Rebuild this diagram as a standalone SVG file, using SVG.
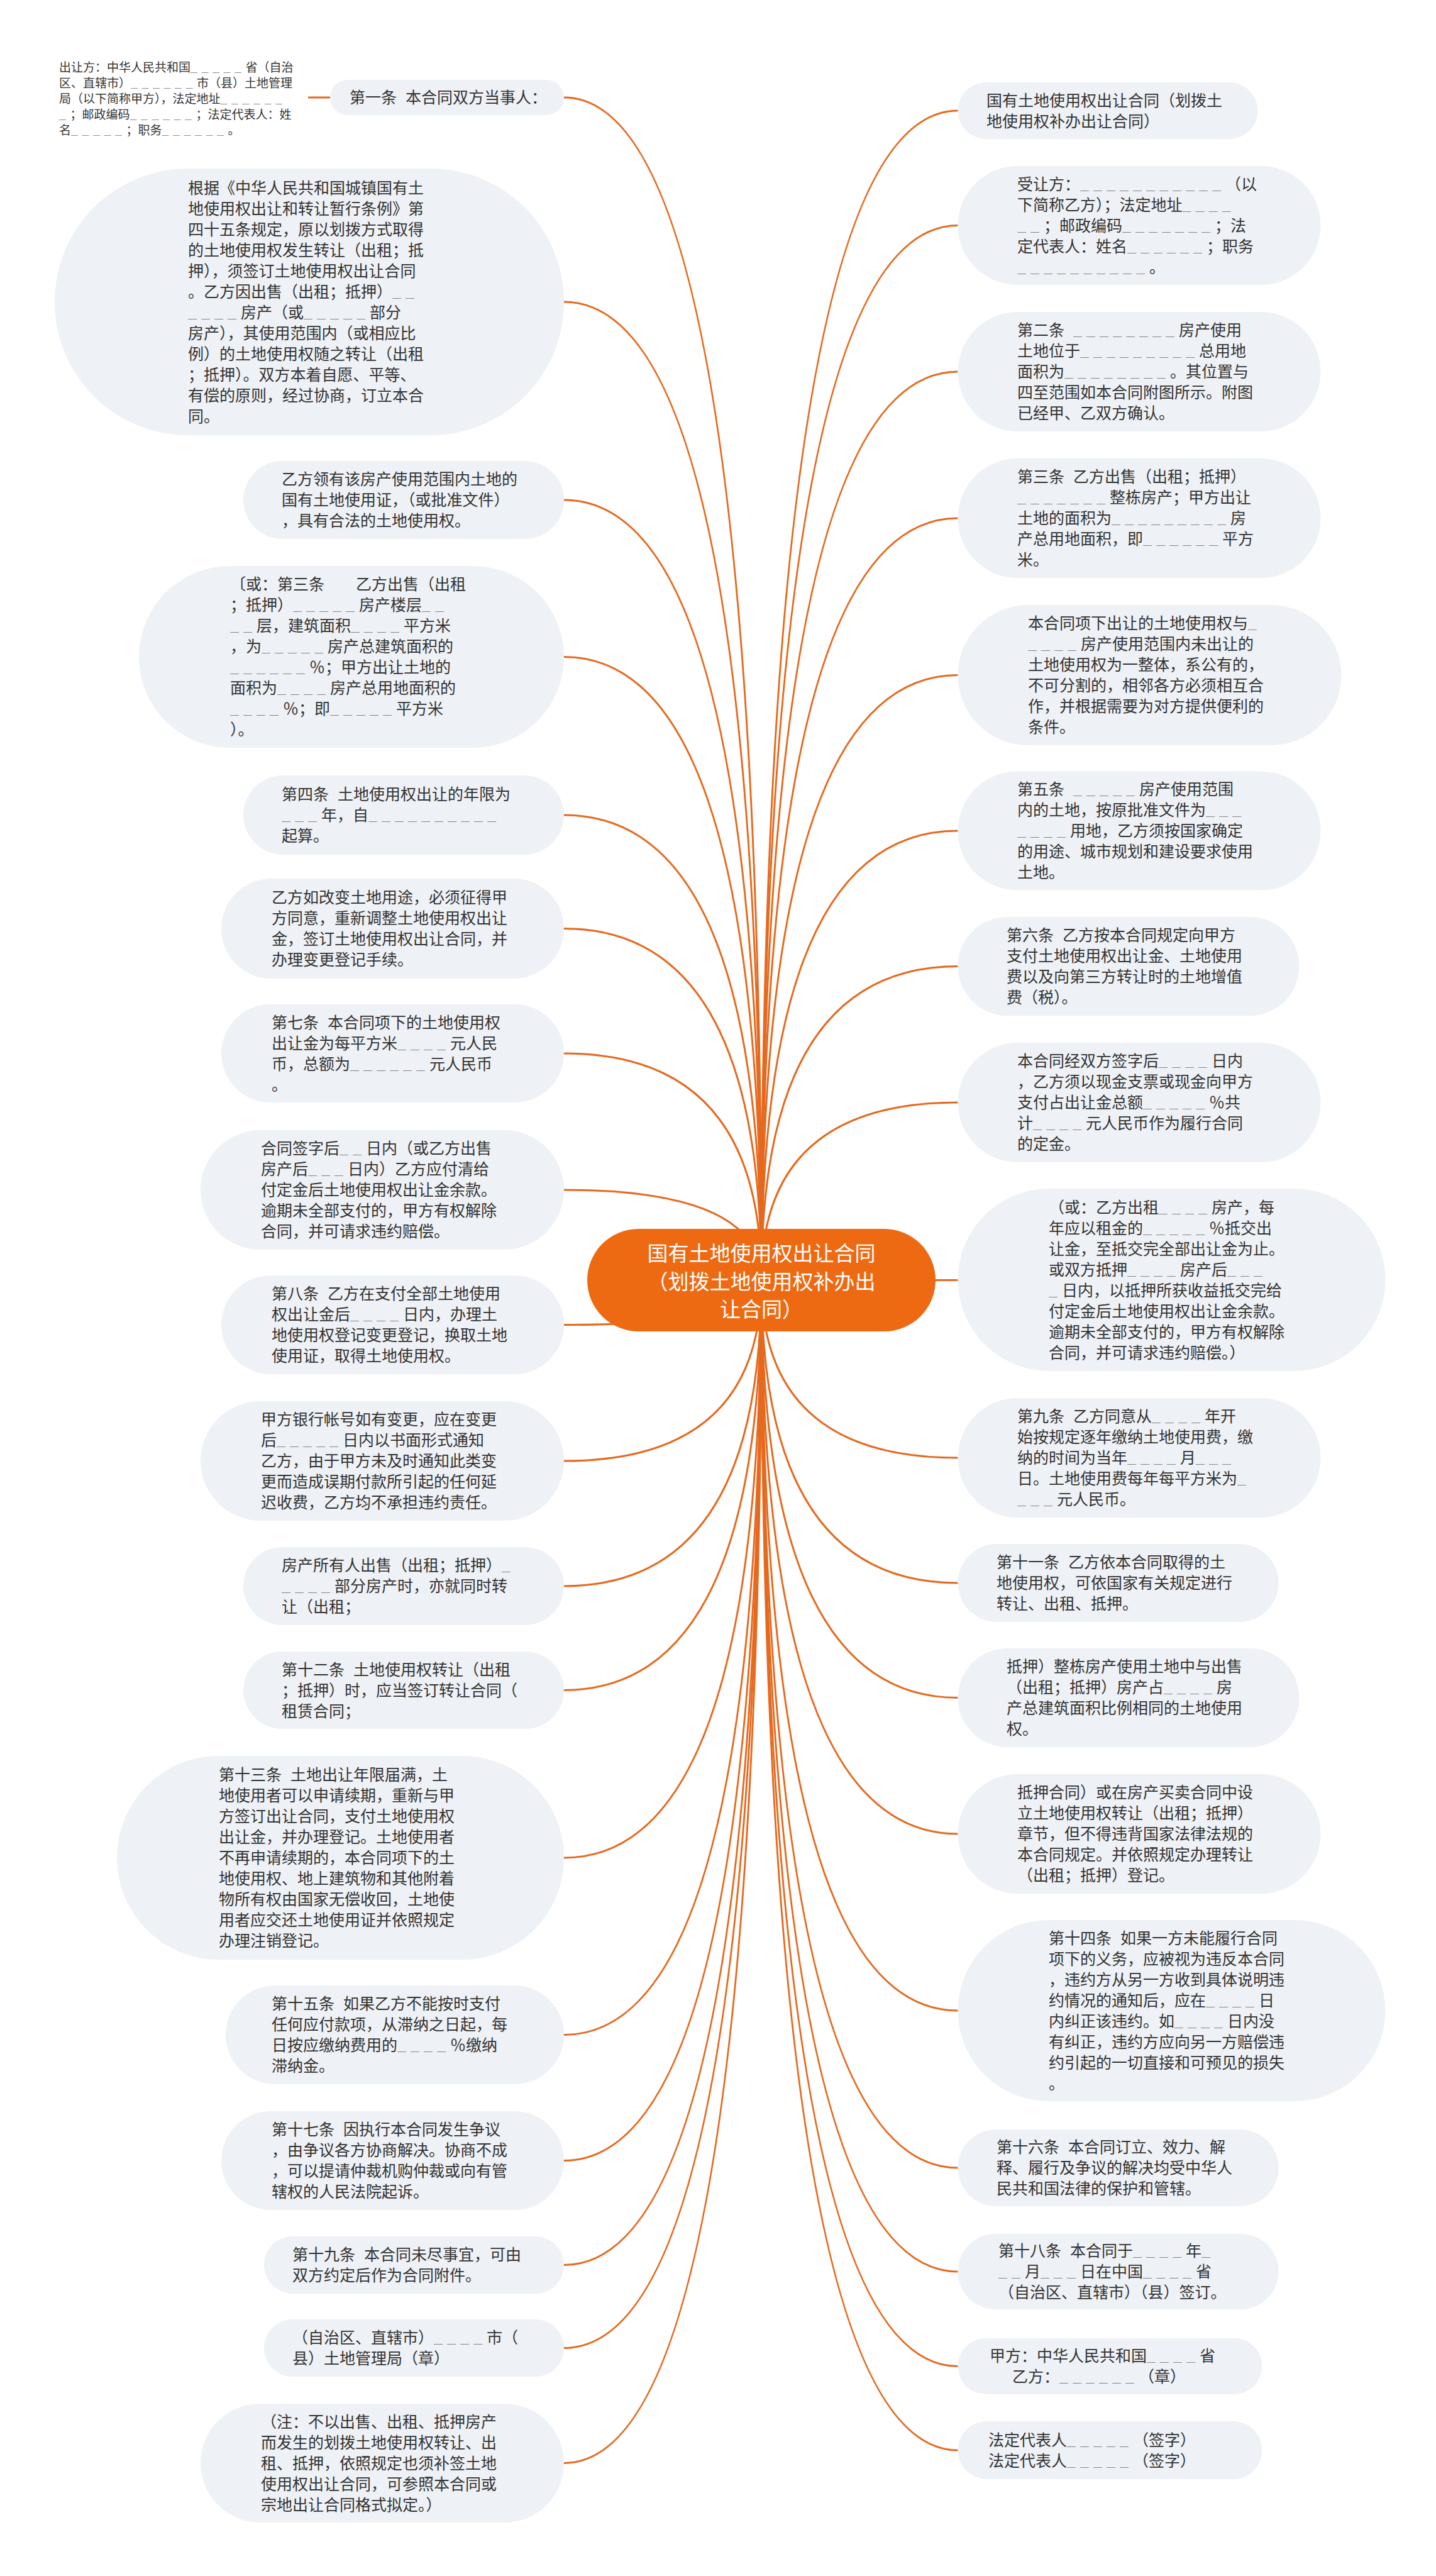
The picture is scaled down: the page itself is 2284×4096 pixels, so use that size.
<svg xmlns="http://www.w3.org/2000/svg" width="2284" height="4096" viewBox="0 0 2284 4096">
<style>
.n{fill:#EEF1F5}
.t{font-family:"Liberation Sans","Noto Sans CJK SC",sans-serif;font-size:25px;fill:#333333;white-space:pre;dominant-baseline:central}
.s{font-size:19px}
.u{font-size:14px;letter-spacing:7px;baseline-shift:-4px}
.s .u{font-size:11px;letter-spacing:6.5px;baseline-shift:-3px}
.c{fill:none;stroke:#E5691E;stroke-width:3}
.r{fill:#EE6A12}
.rt{font-family:"Noto Sans CJK SC",sans-serif;font-size:33px;fill:#FFFFFF;text-anchor:middle;dominant-baseline:central}
</style>
<rect width="2284" height="4096" fill="#FFFFFF"/>
<g id="connectors">
<path class="c" d="M1211,2035.5 Q1211,155 897,155"/>
<path class="c" d="M1211,2035.5 Q1211,480 897,480"/>
<path class="c" d="M1211,2035.5 Q1211,795 897,795"/>
<path class="c" d="M1211,2035.5 Q1211,1044.5 897,1044.5"/>
<path class="c" d="M1211,2035.5 Q1211,1296 897,1296"/>
<path class="c" d="M1211,2035.5 Q1211,1476.5 897,1476.5"/>
<path class="c" d="M1211,2035.5 Q1211,1675 897,1675"/>
<path class="c" d="M1211,2035.5 Q1211,1892 897,1892"/>
<path class="c" d="M1211,2035.5 Q1211,2106.5 897,2106.5"/>
<path class="c" d="M1211,2035.5 Q1211,2323 897,2323"/>
<path class="c" d="M1211,2035.5 Q1211,2522 897,2522"/>
<path class="c" d="M1211,2035.5 Q1211,2687.5 897,2687.5"/>
<path class="c" d="M1211,2035.5 Q1211,2954 897,2954"/>
<path class="c" d="M1211,2035.5 Q1211,3235.5 897,3235.5"/>
<path class="c" d="M1211,2035.5 Q1211,3435.5 897,3435.5"/>
<path class="c" d="M1211,2035.5 Q1211,3601.5 897,3601.5"/>
<path class="c" d="M1211,2035.5 Q1211,3733.5 897,3733.5"/>
<path class="c" d="M1211,2035.5 Q1211,3916.5 897,3916.5"/>
<path class="c" d="M1211,2035.5 Q1211,176 1523.5,176"/>
<path class="c" d="M1211,2035.5 Q1211,358.5 1523.5,358.5"/>
<path class="c" d="M1211,2035.5 Q1211,591 1523.5,591"/>
<path class="c" d="M1211,2035.5 Q1211,824 1523.5,824"/>
<path class="c" d="M1211,2035.5 Q1211,1073.5 1523.5,1073.5"/>
<path class="c" d="M1211,2035.5 Q1211,1321 1523.5,1321"/>
<path class="c" d="M1211,2035.5 Q1211,1536.5 1523.5,1536.5"/>
<path class="c" d="M1211,2035.5 Q1211,1753 1523.5,1753"/>
<path class="c" d="M1211,2035.5 L1523.5,2035.5"/>
<path class="c" d="M1211,2035.5 Q1211,2318 1523.5,2318"/>
<path class="c" d="M1211,2035.5 Q1211,2517 1523.5,2517"/>
<path class="c" d="M1211,2035.5 Q1211,2699.5 1523.5,2699.5"/>
<path class="c" d="M1211,2035.5 Q1211,2916 1523.5,2916"/>
<path class="c" d="M1211,2035.5 Q1211,3197 1523.5,3197"/>
<path class="c" d="M1211,2035.5 Q1211,3447 1523.5,3447"/>
<path class="c" d="M1211,2035.5 Q1211,3612 1523.5,3612"/>
<path class="c" d="M1211,2035.5 Q1211,3762.5 1523.5,3762.5"/>
<path class="c" d="M1211,2035.5 Q1211,3896 1523.5,3896"/>
<path class="c" d="M525,155 L490,155"/>
</g>
<g id="root">
<rect class="r" x="934" y="1954" width="554" height="163" rx="81.5"/>
<text class="rt"><tspan x="1211" y="1991">国有土地使用权出让合同</tspan><tspan x="1211" y="2035.5">（划拨土地使用权补办出</tspan><tspan x="1211" y="2080">让合同）</tspan></text>
</g>
<g id="node-a">
<rect class="n" x="525" y="127" width="372" height="56" rx="28"/>
<text class="t"><tspan x="556" y="155">第一条  本合同双方当事人：</tspan></text>
</g>
<g id="node-a1">
<text class="t s"><tspan x="94" y="107">出让方：中华人民共和国<tspan class="u">＿＿＿＿＿</tspan>省（自治</tspan><tspan x="94" y="132">区、直辖市）<tspan class="u">＿＿＿＿＿＿</tspan>市（县）土地管理</tspan><tspan x="94" y="157">局（以下简称甲方），法定地址<tspan class="u">＿＿＿＿＿＿</tspan></tspan><tspan x="94" y="182"><tspan class="u">＿</tspan>；邮政编码<tspan class="u">＿＿＿＿＿＿</tspan>；法定代表人：姓</tspan><tspan x="94" y="207">名<tspan class="u">＿＿＿＿＿</tspan>；职务<tspan class="u">＿＿＿＿＿＿</tspan>。</tspan></text>
</g>
<g id="node-b">
<rect class="n" x="87" y="268" width="810" height="424" rx="212"/>
<text class="t"><tspan x="299" y="298.5">根据《中华人民共和国城镇国有土</tspan><tspan x="299" y="331.5">地使用权出让和转让暂行条例》第</tspan><tspan x="299" y="364.5">四十五条规定，原以划拨方式取得</tspan><tspan x="299" y="397.5">的土地使用权发生转让（出租；抵</tspan><tspan x="299" y="430.5">押），须签订土地使用权出让合同</tspan><tspan x="299" y="463.5">。乙方因出售（出租；抵押）<tspan class="u">＿＿</tspan></tspan><tspan x="299" y="496.5"><tspan class="u">＿＿＿＿</tspan>房产（或<tspan class="u">＿＿＿＿＿</tspan>部分</tspan><tspan x="299" y="529.5">房产），其使用范围内（或相应比</tspan><tspan x="299" y="562.5">例）的土地使用权随之转让（出租</tspan><tspan x="299" y="595.5">；抵押）。双方本着自愿、平等、</tspan><tspan x="299" y="628.5">有偿的原则，经过协商，订立本合</tspan><tspan x="299" y="661.5">同。</tspan></text>
</g>
<g id="node-c">
<rect class="n" x="387" y="733" width="510" height="124" rx="62"/>
<text class="t"><tspan x="448" y="762">乙方领有该房产使用范围内土地的</tspan><tspan x="448" y="795">国有土地使用证，（或批准文件）</tspan><tspan x="448" y="828">，具有合法的土地使用权。</tspan></text>
</g>
<g id="node-d">
<rect class="n" x="221" y="900" width="676" height="289" rx="144.5"/>
<text class="t"><tspan x="366" y="929">〔或：第三条　　乙方出售（出租</tspan><tspan x="366" y="962">；抵押）<tspan class="u">＿＿＿＿＿</tspan>房产楼层<tspan class="u">＿＿</tspan></tspan><tspan x="366" y="995"><tspan class="u">＿＿</tspan>层，建筑面积<tspan class="u">＿＿＿＿</tspan>平方米</tspan><tspan x="366" y="1028">，为<tspan class="u">＿＿＿＿＿</tspan>房产总建筑面积的</tspan><tspan x="366" y="1061"><tspan class="u">＿＿＿＿＿＿</tspan>％；甲方出让土地的</tspan><tspan x="366" y="1094">面积为<tspan class="u">＿＿＿＿</tspan>房产总用地面积的</tspan><tspan x="366" y="1127"><tspan class="u">＿＿＿＿</tspan>％；即<tspan class="u">＿＿＿＿＿</tspan>平方米</tspan><tspan x="366" y="1160">）。</tspan></text>
</g>
<g id="node-e">
<rect class="n" x="387" y="1233" width="510" height="126" rx="63"/>
<text class="t"><tspan x="448" y="1263">第四条  土地使用权出让的年限为</tspan><tspan x="448" y="1296"><tspan class="u">＿＿＿</tspan>年，自<tspan class="u">＿＿＿＿＿＿＿＿＿＿</tspan></tspan><tspan x="448" y="1329">起算。</tspan></text>
</g>
<g id="node-f">
<rect class="n" x="352" y="1397" width="545" height="159" rx="79.5"/>
<text class="t"><tspan x="432" y="1427">乙方如改变土地用途，必须征得甲</tspan><tspan x="432" y="1460">方同意，重新调整土地使用权出让</tspan><tspan x="432" y="1493">金，签订土地使用权出让合同，并</tspan><tspan x="432" y="1526">办理变更登记手续。</tspan></text>
</g>
<g id="node-g">
<rect class="n" x="352" y="1597" width="545" height="156" rx="78"/>
<text class="t"><tspan x="432" y="1625.5">第七条  本合同项下的土地使用权</tspan><tspan x="432" y="1658.5">出让金为每平方米<tspan class="u">＿＿＿＿</tspan>元人民</tspan><tspan x="432" y="1691.5">币，总额为<tspan class="u">＿＿＿＿＿＿</tspan>元人民币</tspan><tspan x="432" y="1724.5">。</tspan></text>
</g>
<g id="node-h">
<rect class="n" x="319" y="1797" width="578" height="190" rx="95"/>
<text class="t"><tspan x="415" y="1826">合同签字后<tspan class="u">＿＿</tspan>日内（或乙方出售</tspan><tspan x="415" y="1859">房产后<tspan class="u">＿＿＿</tspan>日内）乙方应付清给</tspan><tspan x="415" y="1892">付定金后土地使用权出让金余款。</tspan><tspan x="415" y="1925">逾期未全部支付的，甲方有权解除</tspan><tspan x="415" y="1958">合同，并可请求违约赔偿。</tspan></text>
</g>
<g id="node-i">
<rect class="n" x="352" y="2028" width="545" height="157" rx="78.5"/>
<text class="t"><tspan x="432" y="2057">第八条  乙方在支付全部土地使用</tspan><tspan x="432" y="2090">权出让金后<tspan class="u">＿＿＿＿</tspan>日内，办理土</tspan><tspan x="432" y="2123">地使用权登记变更登记，换取土地</tspan><tspan x="432" y="2156">使用证，取得土地使用权。</tspan></text>
</g>
<g id="node-j">
<rect class="n" x="319" y="2228" width="578" height="190" rx="95"/>
<text class="t"><tspan x="415" y="2257">甲方银行帐号如有变更，应在变更</tspan><tspan x="415" y="2290">后<tspan class="u">＿＿＿＿＿</tspan>日内以书面形式通知</tspan><tspan x="415" y="2323">乙方，由于甲方未及时通知此类变</tspan><tspan x="415" y="2356">更而造成误期付款所引起的任何延</tspan><tspan x="415" y="2389">迟收费，乙方均不承担违约责任。</tspan></text>
</g>
<g id="node-k">
<rect class="n" x="387" y="2460" width="510" height="124" rx="62"/>
<text class="t"><tspan x="448" y="2489">房产所有人出售（出租；抵押）<tspan class="u">＿</tspan></tspan><tspan x="448" y="2522"><tspan class="u">＿＿＿＿</tspan>部分房产时，亦就同时转</tspan><tspan x="448" y="2555">让（出租；</tspan></text>
</g>
<g id="node-l">
<rect class="n" x="387" y="2626" width="510" height="123" rx="61.5"/>
<text class="t"><tspan x="448" y="2654.5">第十二条  土地使用权转让（出租</tspan><tspan x="448" y="2687.5">；抵押）时，应当签订转让合同（</tspan><tspan x="448" y="2720.5">租赁合同；</tspan></text>
</g>
<g id="node-m">
<rect class="n" x="186" y="2792" width="711" height="324" rx="162"/>
<text class="t"><tspan x="348" y="2822">第十三条  土地出让年限届满，土</tspan><tspan x="348" y="2855">地使用者可以申请续期，重新与甲</tspan><tspan x="348" y="2888">方签订出让合同，支付土地使用权</tspan><tspan x="348" y="2921">出让金，并办理登记。土地使用者</tspan><tspan x="348" y="2954">不再申请续期的，本合同项下的土</tspan><tspan x="348" y="2987">地使用权、地上建筑物和其他附着</tspan><tspan x="348" y="3020">物所有权由国家无偿收回，土地使</tspan><tspan x="348" y="3053">用者应交还土地使用证并依照规定</tspan><tspan x="348" y="3086">办理注销登记。</tspan></text>
</g>
<g id="node-n">
<rect class="n" x="359" y="3157" width="538" height="157" rx="78.5"/>
<text class="t"><tspan x="432" y="3186">第十五条  如果乙方不能按时支付</tspan><tspan x="432" y="3219">任何应付款项，从滞纳之日起，每</tspan><tspan x="432" y="3252">日按应缴纳费用的<tspan class="u">＿＿＿＿</tspan>％缴纳</tspan><tspan x="432" y="3285">滞纳金。</tspan></text>
</g>
<g id="node-o">
<rect class="n" x="352" y="3357" width="545" height="157" rx="78.5"/>
<text class="t"><tspan x="432" y="3386">第十七条  因执行本合同发生争议</tspan><tspan x="432" y="3419">，由争议各方协商解决。协商不成</tspan><tspan x="432" y="3452">，可以提请仲裁机购仲裁或向有管</tspan><tspan x="432" y="3485">辖权的人民法院起诉。</tspan></text>
</g>
<g id="node-p">
<rect class="n" x="420" y="3556" width="477" height="91" rx="45.5"/>
<text class="t"><tspan x="465" y="3585">第十九条  本合同未尽事宜，可由</tspan><tspan x="465" y="3618">双方约定后作为合同附件。</tspan></text>
</g>
<g id="node-q">
<rect class="n" x="420" y="3688" width="477" height="91" rx="45.5"/>
<text class="t"><tspan x="465" y="3717">（自治区、直辖市）<tspan class="u">＿＿＿＿</tspan>市（</tspan><tspan x="465" y="3750">县）土地管理局（章）</tspan></text>
</g>
<g id="node-r">
<rect class="n" x="319" y="3822" width="578" height="189" rx="94.5"/>
<text class="t"><tspan x="415" y="3850.5">（注：不以出售、出租、抵押房产</tspan><tspan x="415" y="3883.5">而发生的划拨土地使用权转让、出</tspan><tspan x="415" y="3916.5">租、抵押，依照规定也须补签土地</tspan><tspan x="415" y="3949.5">使用权出让合同，可参照本合同或</tspan><tspan x="415" y="3982.5">宗地出让合同格式拟定。）</tspan></text>
</g>
<g id="node-s">
<rect class="n" x="1523.5" y="131" width="477" height="90" rx="45"/>
<text class="t"><tspan x="1569" y="159.5">国有土地使用权出让合同（划拨土</tspan><tspan x="1569" y="192.5">地使用权补办出让合同）</tspan></text>
</g>
<g id="node-t">
<rect class="n" x="1523.5" y="264" width="577" height="189" rx="94.5"/>
<text class="t"><tspan x="1618" y="292.5">受让方：<tspan class="u">＿＿＿＿＿＿＿＿＿＿＿</tspan>（以</tspan><tspan x="1618" y="325.5">下简称乙方）；法定地址<tspan class="u">＿＿＿＿</tspan></tspan><tspan x="1618" y="358.5"><tspan class="u">＿＿</tspan>；邮政编码<tspan class="u">＿＿＿＿＿＿＿</tspan>；法</tspan><tspan x="1618" y="391.5">定代表人：姓名<tspan class="u">＿＿＿＿＿＿</tspan>；职务</tspan><tspan x="1618" y="424.5"><tspan class="u">＿＿＿＿＿＿＿＿＿＿</tspan>。</tspan></text>
</g>
<g id="node-u">
<rect class="n" x="1523.5" y="496" width="577" height="190" rx="95"/>
<text class="t"><tspan x="1618" y="525">第二条  <tspan class="u">＿＿＿＿＿＿＿＿</tspan>房产使用</tspan><tspan x="1618" y="558">土地位于<tspan class="u">＿＿＿＿＿＿＿＿＿</tspan>总用地</tspan><tspan x="1618" y="591">面积为<tspan class="u">＿＿＿＿＿＿＿＿</tspan>。其位置与</tspan><tspan x="1618" y="624">四至范围如本合同附图所示。附图</tspan><tspan x="1618" y="657">已经甲、乙双方确认。</tspan></text>
</g>
<g id="node-v">
<rect class="n" x="1523.5" y="729" width="577" height="190" rx="95"/>
<text class="t"><tspan x="1618" y="758">第三条  乙方出售（出租；抵押）</tspan><tspan x="1618" y="791"><tspan class="u">＿＿＿＿＿＿＿</tspan>整栋房产；甲方出让</tspan><tspan x="1618" y="824">土地的面积为<tspan class="u">＿＿＿＿＿＿＿＿＿</tspan>房</tspan><tspan x="1618" y="857">产总用地面积，即<tspan class="u">＿＿＿＿＿＿</tspan>平方</tspan><tspan x="1618" y="890">米。</tspan></text>
</g>
<g id="node-w">
<rect class="n" x="1523.5" y="962" width="610" height="223" rx="111.5"/>
<text class="t"><tspan x="1635" y="991">本合同项下出让的土地使用权与<tspan class="u">＿</tspan></tspan><tspan x="1635" y="1024"><tspan class="u">＿＿＿＿</tspan>房产使用范围内未出让的</tspan><tspan x="1635" y="1057">土地使用权为一整体，系公有的，</tspan><tspan x="1635" y="1090">不可分割的，相邻各方必须相互合</tspan><tspan x="1635" y="1123">作，并根据需要为对方提供便利的</tspan><tspan x="1635" y="1156">条件。</tspan></text>
</g>
<g id="node-x">
<rect class="n" x="1523.5" y="1226.5" width="577" height="189" rx="94.5"/>
<text class="t"><tspan x="1618" y="1255">第五条  <tspan class="u">＿＿＿＿＿</tspan>房产使用范围</tspan><tspan x="1618" y="1288">内的土地，按原批准文件为<tspan class="u">＿＿＿</tspan></tspan><tspan x="1618" y="1321"><tspan class="u">＿＿＿＿</tspan>用地，乙方须按国家确定</tspan><tspan x="1618" y="1354">的用途、城市规划和建设要求使用</tspan><tspan x="1618" y="1387">土地。</tspan></text>
</g>
<g id="node-y">
<rect class="n" x="1523.5" y="1458" width="543" height="157" rx="78.5"/>
<text class="t"><tspan x="1601" y="1487">第六条  乙方按本合同规定向甲方</tspan><tspan x="1601" y="1520">支付土地使用权出让金、土地使用</tspan><tspan x="1601" y="1553">费以及向第三方转让时的土地增值</tspan><tspan x="1601" y="1586">费（税）。</tspan></text>
</g>
<g id="node-z">
<rect class="n" x="1523.5" y="1658" width="577" height="190" rx="95"/>
<text class="t"><tspan x="1618" y="1687">本合同经双方签字后<tspan class="u">＿＿＿＿</tspan>日内</tspan><tspan x="1618" y="1720">，乙方须以现金支票或现金向甲方</tspan><tspan x="1618" y="1753">支付占出让金总额<tspan class="u">＿＿＿＿＿</tspan>％共</tspan><tspan x="1618" y="1786">计<tspan class="u">＿＿＿＿</tspan>元人民币作为履行合同</tspan><tspan x="1618" y="1819">的定金。</tspan></text>
</g>
<g id="node-aa">
<rect class="n" x="1523.5" y="1890" width="680" height="290" rx="145"/>
<text class="t"><tspan x="1668" y="1919.5">（或：乙方出租<tspan class="u">＿＿＿＿</tspan>房产，每</tspan><tspan x="1668" y="1952.5">年应以租金的<tspan class="u">＿＿＿＿＿</tspan>％抵交出</tspan><tspan x="1668" y="1985.5">让金，至抵交完全部出让金为止。</tspan><tspan x="1668" y="2018.5">或双方抵押<tspan class="u">＿＿＿＿</tspan>房产后<tspan class="u">＿＿＿</tspan></tspan><tspan x="1668" y="2051.5"><tspan class="u">＿</tspan>日内，以抵押所获收益抵交完给</tspan><tspan x="1668" y="2084.5">付定金后土地使用权出让金余款。</tspan><tspan x="1668" y="2117.5">逾期未全部支付的，甲方有权解除</tspan><tspan x="1668" y="2150.5">合同，并可请求违约赔偿。）</tspan></text>
</g>
<g id="node-ab">
<rect class="n" x="1523.5" y="2223" width="577" height="190" rx="95"/>
<text class="t"><tspan x="1618" y="2252">第九条  乙方同意从<tspan class="u">＿＿＿＿</tspan>年开</tspan><tspan x="1618" y="2285">始按规定逐年缴纳土地使用费，缴</tspan><tspan x="1618" y="2318">纳的时间为当年<tspan class="u">＿＿＿＿</tspan>月<tspan class="u">＿＿＿</tspan></tspan><tspan x="1618" y="2351">日。土地使用费每年每平方米为<tspan class="u">＿</tspan></tspan><tspan x="1618" y="2384"><tspan class="u">＿＿＿</tspan>元人民币。</tspan></text>
</g>
<g id="node-ac">
<rect class="n" x="1523.5" y="2455" width="510" height="124" rx="62"/>
<text class="t"><tspan x="1585" y="2484">第十一条  乙方依本合同取得的土</tspan><tspan x="1585" y="2517">地使用权，可依国家有关规定进行</tspan><tspan x="1585" y="2550">转让、出租、抵押。</tspan></text>
</g>
<g id="node-ad">
<rect class="n" x="1523.5" y="2621" width="543" height="157" rx="78.5"/>
<text class="t"><tspan x="1601" y="2650">抵押）整栋房产使用土地中与出售</tspan><tspan x="1601" y="2683">（出租；抵押）房产占<tspan class="u">＿＿＿＿</tspan>房</tspan><tspan x="1601" y="2716">产总建筑面积比例相同的土地使用</tspan><tspan x="1601" y="2749">权。</tspan></text>
</g>
<g id="node-ae">
<rect class="n" x="1523.5" y="2821" width="577" height="190" rx="95"/>
<text class="t"><tspan x="1618" y="2850">抵押合同）或在房产买卖合同中设</tspan><tspan x="1618" y="2883">立土地使用权转让（出租；抵押）</tspan><tspan x="1618" y="2916">章节，但不得违背国家法律法规的</tspan><tspan x="1618" y="2949">本合同规定。并依照规定办理转让</tspan><tspan x="1618" y="2982">（出租；抵押）登记。</tspan></text>
</g>
<g id="node-af">
<rect class="n" x="1523.5" y="3053" width="680" height="288" rx="144"/>
<text class="t"><tspan x="1668" y="3081.5">第十四条  如果一方未能履行合同</tspan><tspan x="1668" y="3114.5">项下的义务，应被视为违反本合同</tspan><tspan x="1668" y="3147.5">，违约方从另一方收到具体说明违</tspan><tspan x="1668" y="3180.5">约情况的通知后，应在<tspan class="u">＿＿＿＿</tspan>日</tspan><tspan x="1668" y="3213.5">内纠正该违约。如<tspan class="u">＿＿＿＿</tspan>日内没</tspan><tspan x="1668" y="3246.5">有纠正，违约方应向另一方赔偿违</tspan><tspan x="1668" y="3279.5">约引起的一切直接和可预见的损失</tspan><tspan x="1668" y="3312.5">。</tspan></text>
</g>
<g id="node-ag">
<rect class="n" x="1523.5" y="3386" width="510" height="122" rx="61"/>
<text class="t"><tspan x="1585" y="3414">第十六条  本合同订立、效力、解</tspan><tspan x="1585" y="3447">释、履行及争议的解决均受中华人</tspan><tspan x="1585" y="3480">民共和国法律的保护和管辖。</tspan></text>
</g>
<g id="node-ah">
<rect class="n" x="1523.5" y="3552" width="510" height="120" rx="60"/>
<text class="t"><tspan x="1588" y="3579">第十八条  本合同于<tspan class="u">＿＿＿＿</tspan>年<tspan class="u">＿</tspan></tspan><tspan x="1588" y="3612"><tspan class="u">＿＿</tspan>月<tspan class="u">＿＿＿</tspan>日在中国<tspan class="u">＿＿＿＿</tspan>省</tspan><tspan x="1588" y="3645">（自治区、直辖市）（县）签订。</tspan></text>
</g>
<g id="node-ai">
<rect class="n" x="1523.5" y="3718" width="484" height="89" rx="44.5"/>
<text class="t"><tspan x="1574" y="3746">甲方：中华人民共和国<tspan class="u">＿＿＿＿</tspan>省</tspan><tspan x="1610" y="3779">乙方：<tspan class="u">＿＿＿＿＿＿</tspan>（章）</tspan></text>
</g>
<g id="node-aj">
<rect class="n" x="1523.5" y="3850" width="484" height="92" rx="46"/>
<text class="t"><tspan x="1572" y="3879.5">法定代表人<tspan class="u">＿＿＿＿＿</tspan>（签字）</tspan><tspan x="1572" y="3912.5">法定代表人<tspan class="u">＿＿＿＿＿</tspan>（签字）</tspan></text>
</g>
</svg>
